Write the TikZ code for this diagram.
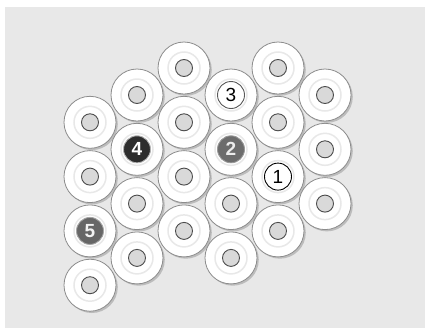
\documentclass[tikz,border=0pt]{standalone}
\usepackage{fontspec}
\setsansfont{Liberation Sans}
\usetikzlibrary{shadows}

\definecolor{panel}{gray}{0.91}
\definecolor{rim}{gray}{0.55}

\tikzset{
  washer/.style={circle, draw=rim, line width=0.8pt, fill=white, minimum size=52pt, inner sep=0pt,
    drop shadow={shadow xshift=1.8pt, shadow yshift=-1.8pt, fill=gray!60, opacity=0.8}},
  hole/.style={circle, draw=gray!60!black, line width=0.9pt, fill=gray!30, minimum size=17pt, inner sep=0pt},
  halo/.style={circle, draw=gray!18, line width=1.5pt, minimum size=32pt, inner sep=0pt},
  marker/.style={circle, line width=0.9pt, minimum size=27pt, inner sep=0pt,
    font=\sffamily\bfseries\fontsize{19}{19}\selectfont},
  plain marker/.style={marker, font=\sffamily\fontsize{19}{19}\selectfont},
}

\begin{document}
\begin{tikzpicture}[x=1pt, y=-1pt, thick]

  % -- Panel --
  \useasboundingbox (0,0) rectangle (428,330);
  \fill[white] (0,0) rectangle (428,330);
  \fill[panel] (5,7) rectangle (425,328);

  % -- Washers in staggered columns --
  \foreach \c/\kmin/\kmax in {1/1/4, 2/0/3, 3/0/3, 4/0/3, 5/0/3, 6/0/2} {
    \foreach \k in {\kmin,...,\kmax} {
      \pgfmathsetmacro\xx{90 + 47*(\c-1)}
      \pgfmathsetmacro\yy{(mod(\c,2)==1 ? 68 : 95) + 54.3*\k}
      \node[washer] (w\c\k) at (\xx,\yy) {};
      \node[halo] (r\c\k) at (w\c\k) {};
      \node[hole] (h\c\k) at (w\c\k) {};
    }
  }

  % -- Numbered positions --
  \node[plain marker, draw=black, fill=white, text=black] (m1) at (w52) {1};
  \node[marker, draw=gray!80, fill=gray!85!black, text=white!85!gray] (m2) at (w41) {2};
  \node[plain marker, draw=gray!70!black, fill=white, text=black] (m3) at (w40) {3};
  \node[marker, draw=gray!60, fill=gray!35!black, text=white] (m4) at (w21) {4};
  \node[marker, draw=gray!70, fill=gray!80!black, text=white!90!gray] (m5) at (w13) {5};

\end{tikzpicture}
\end{document}
